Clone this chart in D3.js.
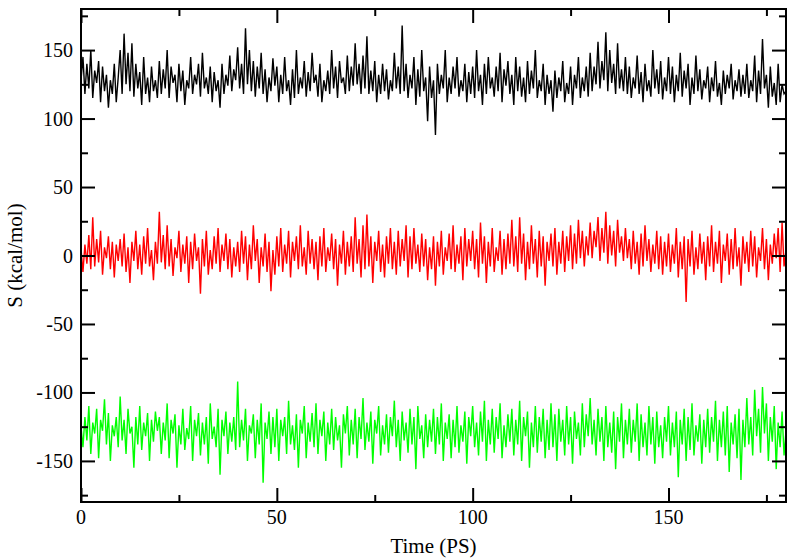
<!DOCTYPE html>
<html lang="en">
<head>
    <meta charset="UTF-8">
    <title>S vs time</title>
    <script src="https://cdnjs.cloudflare.com/ajax/libs/d3/7.8.5/d3.min.js"></script>
    <style>
        body { margin: 0; background: #fff; }
    </style>
</head>
<body>

<script>
    // samples every 0.5 ps
    var dt = 0.5;

    var blackVals = [
        128,145,118,140,122,150,115,135,126,142,112,138,120,132,108,128,118,140,112,130,
        150,118,162,125,148,120,155,116,140,122,134,110,145,118,130,112,138,120,128,115,
        142,118,136,122,150,115,138,126,132,112,140,120,135,110,128,122,145,118,132,125,
        140,116,148,122,130,118,138,112,134,120,128,108,140,118,132,124,146,120,136,128,
        152,122,140,118,166,125,150,120,142,116,138,122,148,118,136,112,130,120,144,124,
        138,112,132,118,145,120,128,110,136,115,150,118,130,122,142,116,134,120,148,126,
        132,116,140,112,128,120,135,118,150,122,138,115,142,126,130,118,146,120,138,124,
        155,125,140,118,146,122,160,118,135,120,142,112,132,118,140,120,136,114,128,120,
        148,122,138,118,168,120,140,115,132,122,145,110,136,116,150,120,130,98,138,115,
        128,88,140,118,132,122,150,112,130,118,138,122,145,116,128,120,140,112,134,118,
        138,115,150,120,132,110,140,118,145,122,130,116,138,120,148,112,136,124,142,118,
        132,110,145,120,138,116,130,112,142,118,135,122,150,115,128,120,140,110,132,118,
        128,105,135,115,130,120,142,112,126,118,138,110,132,122,145,115,130,120,138,116,
        148,120,138,125,156,122,142,128,163,120,150,126,140,118,155,122,136,120,145,118,
        138,115,130,122,146,118,134,112,140,120,128,116,150,122,136,118,142,114,130,120,
        145,118,138,112,132,120,148,116,135,122,140,110,130,118,146,120,136,114,128,122,
        138,112,130,120,142,116,126,110,135,118,132,122,140,114,128,120,136,116,132,118,
        140,115,128,120,146,112,135,118,158,122,132,108,138,116,126,110,140,112,125,118,
        120
    ];

    var redVals = [
        5,-12,8,-6,15,-10,28,-8,12,-5,18,-14,6,-2,14,-10,10,-16,8,-4,
        12,-8,16,-12,6,-20,10,-4,18,-10,8,-14,14,-6,20,-8,4,-18,10,-6,
        32,-5,15,-10,22,-8,12,-15,6,-2,18,-12,8,-6,14,-20,10,-10,16,-4,
        6,-28,12,-8,18,-14,4,-10,14,-6,20,-12,8,-4,16,-10,12,-16,6,-8,
        10,-12,18,-6,14,-18,8,-10,22,-4,12,-20,6,-8,16,-12,10,-26,4,-14,
        14,-8,20,-12,8,-6,18,-16,10,-4,14,-10,22,-8,6,-14,18,-6,12,-10,
        10,-18,14,-8,20,-12,6,-4,16,-10,12,-22,8,-6,18,-14,10,-8,14,-12,
        28,-6,12,-16,22,-10,30,-8,14,-20,10,-4,18,-12,8,-16,14,-6,20,-10,
        10,-14,18,-8,12,-4,22,-16,14,-10,20,-6,8,-12,16,-8,12,-18,6,-10,
        14,-22,10,-8,18,-14,6,-4,16,-10,22,-12,8,-6,14,-18,20,-8,12,-4,
        18,-10,12,-16,24,-6,14,-20,10,-8,20,-12,6,-4,18,-14,12,-10,16,-6,
        26,-8,14,-12,28,-6,16,-18,10,-10,22,-6,12,-16,18,-8,14,-22,10,-4,
        16,-8,20,-14,10,-6,18,-12,14,-4,22,-10,16,-6,26,-2,18,-8,14,0,
        24,-2,18,6,28,-4,20,2,32,-6,22,0,18,-8,26,2,14,-4,20,-2,
        12,-10,18,-6,10,-14,16,-8,22,-4,12,-12,8,-6,18,-10,14,-14,10,-8,
        16,-12,8,-6,20,-16,10,-10,14,-34,12,-8,18,-14,6,-10,16,-6,10,-18,
        14,-8,22,-12,10,-6,18,-20,8,-4,16,-14,12,-10,20,-8,6,-22,14,-6,
        10,-12,18,-8,14,-16,6,-4,20,-10,12,-18,8,-6,16,-2,20,-12,24,-8,
        4
    ];

    var greenVals = [
        -125,-140,-118,-135,-110,-145,-122,-130,-112,-148,-120,-128,-105,-138,-115,-150,-124,-132,-118,-140,
        -103,-135,-120,-145,-112,-130,-125,-155,-118,-138,-110,-142,-122,-132,-115,-150,-120,-136,-114,-128,
        -118,-145,-122,-135,-108,-148,-120,-130,-116,-155,-124,-138,-112,-142,-126,-134,-110,-150,-120,-132,
        -115,-146,-122,-138,-118,-152,-108,-134,-125,-140,-112,-160,-120,-132,-114,-145,-122,-136,-118,-142,
        -92,-140,-120,-135,-112,-150,-124,-130,-116,-148,-120,-138,-108,-166,-122,-134,-114,-145,-118,-140,
        -112,-150,-120,-132,-118,-145,-106,-138,-124,-142,-116,-155,-120,-130,-110,-148,-122,-136,-115,-140,
        -108,-145,-120,-132,-114,-150,-122,-138,-112,-142,-118,-135,-124,-155,-116,-130,-110,-146,-120,-138,
        -112,-148,-118,-134,-104,-142,-122,-136,-114,-152,-120,-130,-110,-146,-124,-138,-116,-144,-118,-132,
        -106,-140,-120,-150,-114,-135,-122,-144,-112,-138,-118,-156,-110,-134,-124,-148,-116,-140,-120,-136,
        -112,-145,-118,-138,-108,-150,-122,-134,-116,-148,-120,-140,-110,-144,-124,-136,-114,-152,-118,-132,
        -110,-140,-122,-146,-114,-136,-106,-150,-120,-138,-112,-144,-118,-134,-108,-148,-124,-140,-116,-136,
        -112,-146,-120,-138,-106,-150,-118,-132,-114,-155,-122,-140,-110,-144,-118,-136,-112,-148,-120,-142,
        -108,-140,-116,-150,-112,-136,-120,-146,-110,-138,-118,-152,-114,-134,-122,-146,-108,-140,-116,-132,
        -104,-138,-120,-146,-112,-136,-118,-150,-110,-140,-122,-144,-114,-156,-118,-136,-108,-148,-120,-138,
        -112,-144,-120,-136,-108,-150,-116,-140,-122,-146,-110,-138,-118,-152,-114,-140,-124,-148,-118,-136,
        -110,-146,-122,-140,-114,-162,-120,-138,-112,-150,-118,-142,-108,-146,-124,-136,-116,-152,-120,-140,
        -112,-144,-118,-136,-106,-150,-120,-140,-114,-146,-110,-158,-122,-138,-116,-148,-112,-164,-120,-140,
        -104,-138,-118,-146,-98,-132,-112,-144,-96,-130,-108,-150,-118,-136,-110,-156,-122,-140,-114,-146,
        -128
    ];

    var seriesColors = ["#000000", "#ff0000", "#00ff00"];
    var xTicks = [0, 50, 100, 150];
    var yTicks = [-150, -100, -50, 0, 50, 100, 150];

    var width = 796,
        height = 560,
        margin = {top: 9, right: 10, bottom: 58, left: 81},
        serif = "'Liberation Serif', 'Times New Roman', 'DejaVu Serif', serif";

    var svg = d3.select("body").append("svg")
        .attr("width", width)
        .attr("height", height)
        .attr("font-family", serif);

    var x = d3.scaleLinear().domain([0, 180]).range([margin.left, width - margin.right]);
    var y = d3.scaleLinear().domain([-180, 180]).range([height - margin.bottom, margin.top]);

    var line = d3.line()
        .x(function (d, i) { return x(i * dt); })
        .y(function (d) { return y(d); });

    // data lines
    [blackVals, redVals, greenVals].forEach(function (vals, k) {
        svg.append("path")
            .attr("d", line(vals))
            .attr("fill", "none")
            .attr("stroke", seriesColors[k])
            .attr("stroke-width", 1.4);
    });

    // inner ticks on all four sides
    var minorX = d3.range(25, 180, 50),
        minorY = d3.range(-175, 180, 50);

    function tickAxis(makeAxis, g, major, minor) {
        g.append("g").call(makeAxis(major).tickSize(-14).tickFormat(""));
        g.append("g").call(makeAxis(minor).tickSize(-7).tickFormat(""));
    }

    var gBottom = svg.append("g").attr("transform", "translate(0," + y(-180) + ")");
    tickAxis(function (t) { return d3.axisBottom(x).tickValues(t); }, gBottom, xTicks, minorX);
    var gTop = svg.append("g").attr("transform", "translate(0," + y(180) + ")");
    tickAxis(function (t) { return d3.axisTop(x).tickValues(t); }, gTop, xTicks, minorX);
    var gLeft = svg.append("g").attr("transform", "translate(" + x(0) + ",0)");
    tickAxis(function (t) { return d3.axisLeft(y).tickValues(t); }, gLeft, yTicks, minorY);
    var gRight = svg.append("g").attr("transform", "translate(" + x(180) + ",0)");
    tickAxis(function (t) { return d3.axisRight(y).tickValues(t); }, gRight, yTicks, minorY);

    svg.selectAll(".domain").remove();
    svg.selectAll(".tick line").attr("stroke", "#000").attr("stroke-width", 2);

    // frame
    svg.append("rect")
        .attr("x", x(0)).attr("y", y(180))
        .attr("width", x(180) - x(0)).attr("height", y(-180) - y(180))
        .attr("fill", "none").attr("stroke", "#000").attr("stroke-width", 2);

    // tick labels
    svg.selectAll("text.xl").data(xTicks).enter().append("text")
        .attr("class", "xl")
        .attr("x", function (d) { return x(d); })
        .attr("y", y(-180) + 22)
        .attr("text-anchor", "middle")
        .attr("font-family", serif)
        .attr("font-size", 20)
        .text(function (d) { return d; });

    svg.selectAll("text.yl").data(yTicks).enter().append("text")
        .attr("class", "yl")
        .attr("x", x(0) - 8)
        .attr("y", function (d) { return y(d) + 7; })
        .attr("text-anchor", "end")
        .attr("font-family", serif)
        .attr("font-size", 20)
        .text(function (d) { return d; });

    // axis titles
    svg.append("text")
        .attr("x", (x(0) + x(180)) / 2)
        .attr("y", height - 7)
        .attr("text-anchor", "middle")
        .attr("font-family", serif)
        .attr("font-size", 21)
        .text("Time (PS)");

    svg.append("text")
        .attr("transform", "translate(22," + y(0) + ") rotate(-90)")
        .attr("text-anchor", "middle")
        .attr("font-family", serif)
        .attr("font-size", 21)
        .text("S (kcal/mol)");
</script>

</body>
</html>
